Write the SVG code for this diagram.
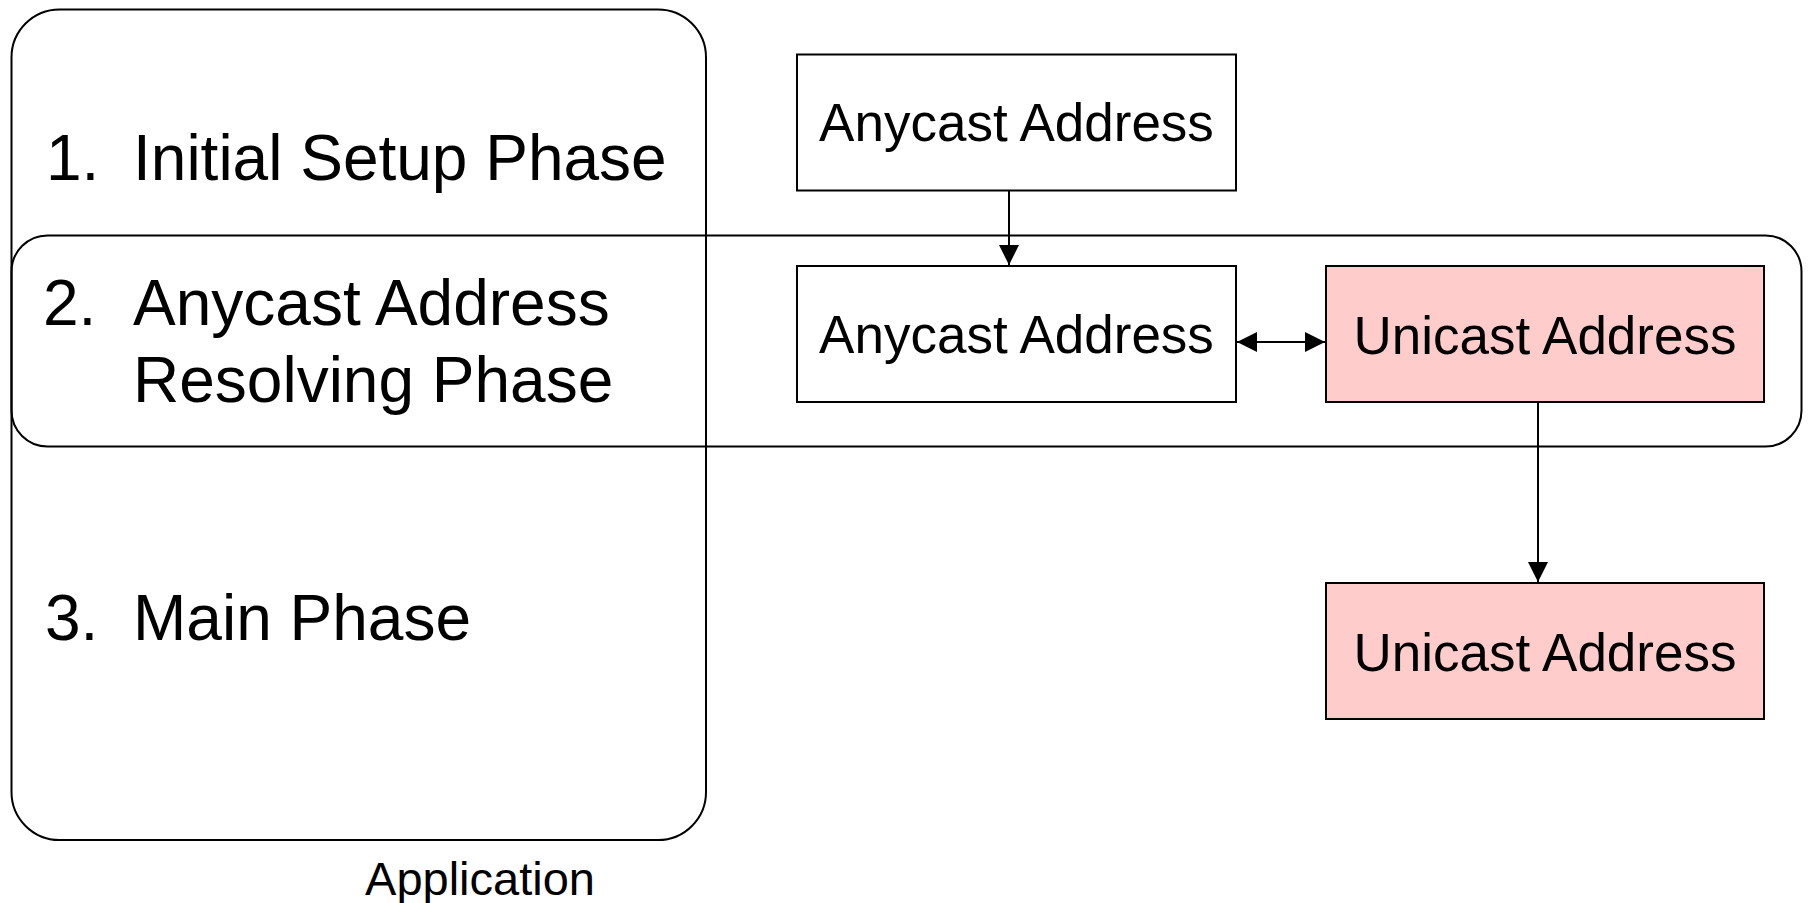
<svg xmlns="http://www.w3.org/2000/svg" width="1811" height="903" viewBox="0 0 1811 903">
<style>
.frame{fill:none;stroke:#000;stroke-width:2}
.box{fill:#fff;stroke:#000;stroke-width:2}
.uni{fill:#ffcccc;stroke:#000;stroke-width:2}
.lbl{font-family:"Liberation Sans",Arial,sans-serif;font-size:53px;fill:#000;text-anchor:middle}
.phase{font-family:"Liberation Sans",Arial,sans-serif;font-size:64px;fill:#000}
.app{font-family:"Liberation Sans",Arial,sans-serif;font-size:47px;fill:#000;text-anchor:middle}
.conn{fill:none;stroke:#000;stroke-width:2}
</style>
<defs>
<marker id="ah" markerUnits="userSpaceOnUse" markerWidth="22" markerHeight="20" refX="20" refY="10" orient="auto-start-reverse" viewBox="0 0 22 20">
<path d="M0,0 L20,10 L0,20 Z" fill="#000"/>
</marker>
</defs>
<g id="application">
<rect class="frame" x="11.5" y="9.5" width="694.5" height="830.5" rx="48" ry="48"/>
<text class="app" x="480" y="895">Application</text>
</g>
<g id="phase1">
<text class="phase" x="46" y="180">1.</text>
<text class="phase" x="133" y="180">Initial Setup Phase</text>
</g>
<g id="phase2">
<rect class="frame" x="11.5" y="235.5" width="1790" height="211" rx="36" ry="36"/>
<text class="phase" x="43" y="325">2.</text>
<text class="phase" x="133" y="325">Anycast Address</text>
<text class="phase" x="133" y="402">Resolving Phase</text>
</g>
<g id="phase3">
<text class="phase" x="45" y="640">3.</text>
<text class="phase" x="133" y="640">Main Phase</text>
</g>
<g id="anycast1">
<rect class="box" x="797" y="54.5" width="439" height="136"/>
<text class="lbl" x="1016.5" y="141">Anycast Address</text>
</g>
<g id="anycast2">
<rect class="box" x="797" y="266" width="439" height="136"/>
<text class="lbl" x="1016.5" y="353">Anycast Address</text>
</g>
<g id="unicast1">
<rect class="uni" x="1326" y="266" width="438" height="136"/>
<text class="lbl" x="1545" y="354">Unicast Address</text>
</g>
<g id="unicast2">
<rect class="uni" x="1326" y="583" width="438" height="136"/>
<text class="lbl" x="1545" y="671">Unicast Address</text>
</g>
<g id="connectors">
<line class="conn" x1="1009" y1="190.5" x2="1009" y2="265" marker-end="url(#ah)"/>
<line class="conn" x1="1237" y1="342" x2="1325" y2="342" marker-start="url(#ah)" marker-end="url(#ah)"/>
<line class="conn" x1="1538" y1="402" x2="1538" y2="582" marker-end="url(#ah)"/>
</g>
</svg>
